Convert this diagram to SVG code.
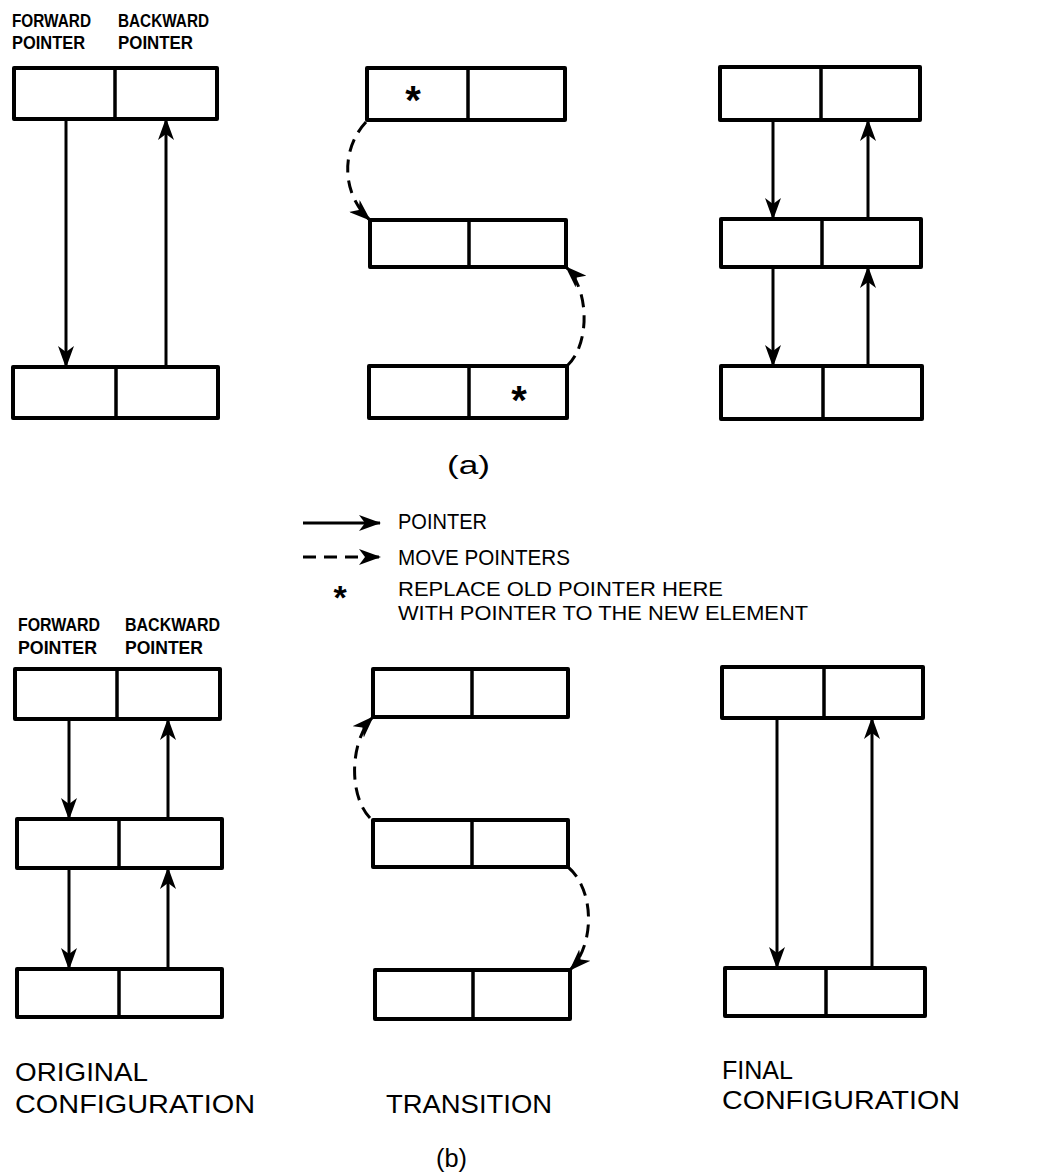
<svg xmlns="http://www.w3.org/2000/svg" width="1061" height="1173" viewBox="0 0 1061 1173">
<style>
.box{fill:none;stroke:#000;stroke-width:4;stroke-linejoin:round}
.div{stroke:#000;stroke-width:3.5}
.ptr{fill:none;stroke:#000;stroke-width:3}
.mv{fill:none;stroke:#000;stroke-width:3;stroke-dasharray:13 8}
.hdr{font-family:"Liberation Sans",Arial,sans-serif;font-weight:bold;font-size:19px;fill:#000}
.lbl{font-family:"Liberation Sans",Arial,sans-serif;font-size:26px;fill:#000}
.leg{font-family:"Liberation Sans",Arial,sans-serif;font-size:22px;fill:#000}
.leg2{font-family:"Liberation Sans",Arial,sans-serif;font-size:20px;fill:#000}
.star{font-family:"Liberation Sans",Arial,sans-serif;font-size:40px;font-weight:bold;fill:#000}
</style>
<defs>
<marker id="ah" viewBox="0 0 22 16" refX="21" refY="8" markerWidth="22" markerHeight="16" markerUnits="userSpaceOnUse" orient="auto">
<path d="M0,0 L22,8 L0,16 L6,8 Z" fill="#000"/>
</marker>
</defs>
<rect width="1061" height="1173" fill="#fff"/>

<!-- headers -->
<g id="hdr-a">
<text class="hdr" x="12" y="27" textLength="79" lengthAdjust="spacingAndGlyphs">FORWARD</text>
<text class="hdr" x="12" y="49" textLength="73" lengthAdjust="spacingAndGlyphs">POINTER</text>
<text class="hdr" x="118" y="27" textLength="91" lengthAdjust="spacingAndGlyphs">BACKWARD</text>
<text class="hdr" x="118" y="49" textLength="75" lengthAdjust="spacingAndGlyphs">POINTER</text>
</g>
<g id="hdr-b">
<text class="hdr" x="18" y="631" textLength="82" lengthAdjust="spacingAndGlyphs">FORWARD</text>
<text class="hdr" x="18" y="654" textLength="79" lengthAdjust="spacingAndGlyphs">POINTER</text>
<text class="hdr" x="125" y="631" textLength="95" lengthAdjust="spacingAndGlyphs">BACKWARD</text>
<text class="hdr" x="125" y="654" textLength="78" lengthAdjust="spacingAndGlyphs">POINTER</text>
</g>

<!-- (a) column 1 -->
<g id="a1-top"><rect class="box" x="14" y="68" width="203" height="51"/><line class="div" x1="115" y1="68" x2="115" y2="119"/></g>
<g id="a1-bot"><rect class="box" x="13" y="367" width="205" height="51"/><line class="div" x1="116" y1="367" x2="116" y2="418"/></g>
<!-- (a) column 2 -->
<g id="a2-top"><rect class="box" x="367" y="68" width="198" height="52"/><line class="div" x1="468" y1="68" x2="468" y2="120"/><text class="star" x="413" y="114" text-anchor="middle">*</text></g>
<g id="a2-mid"><rect class="box" x="370" y="220" width="196" height="47"/><line class="div" x1="469" y1="220" x2="469" y2="267"/></g>
<g id="a2-bot"><rect class="box" x="369" y="366" width="198" height="52"/><line class="div" x1="469" y1="366" x2="469" y2="418"/><text class="star" x="519" y="414" text-anchor="middle">*</text></g>
<!-- (a) column 3 -->
<g id="a3-top"><rect class="box" x="720" y="67" width="200" height="53"/><line class="div" x1="821" y1="67" x2="821" y2="120"/></g>
<g id="a3-mid"><rect class="box" x="721" y="219" width="200" height="48"/><line class="div" x1="822" y1="219" x2="822" y2="267"/></g>
<g id="a3-bot"><rect class="box" x="721" y="366" width="201" height="53"/><line class="div" x1="823" y1="366" x2="823" y2="419"/></g>

<!-- (b) column 1 -->
<g id="b1-top"><rect class="box" x="15" y="669" width="205" height="50"/><line class="div" x1="117" y1="669" x2="117" y2="719"/></g>
<g id="b1-mid"><rect class="box" x="17" y="819" width="205" height="49"/><line class="div" x1="119" y1="819" x2="119" y2="868"/></g>
<g id="b1-bot"><rect class="box" x="17" y="969" width="205" height="48"/><line class="div" x1="119" y1="969" x2="119" y2="1017"/></g>
<!-- (b) column 2 -->
<g id="b2-top"><rect class="box" x="373" y="669" width="195" height="48"/><line class="div" x1="472" y1="669" x2="472" y2="717"/></g>
<g id="b2-mid"><rect class="box" x="373" y="820" width="195" height="47"/><line class="div" x1="472" y1="820" x2="472" y2="867"/></g>
<g id="b2-bot"><rect class="box" x="375" y="970" width="195" height="49"/><line class="div" x1="473" y1="970" x2="473" y2="1019"/></g>
<!-- (b) column 3 -->
<g id="b3-top"><rect class="box" x="722" y="667" width="201" height="51"/><line class="div" x1="824" y1="667" x2="824" y2="718"/></g>
<g id="b3-bot"><rect class="box" x="725" y="968" width="200" height="48"/><line class="div" x1="826" y1="968" x2="826" y2="1016"/></g>

<!-- connectors -->
<g id="connectors">
<line class="ptr" x1="66" y1="119" x2="66" y2="367" marker-end="url(#ah)"/>
<line class="ptr" x1="166" y1="367" x2="166" y2="119" marker-end="url(#ah)"/>
<path class="mv" d="M366,122 C340,150 342,195 370,220" marker-end="url(#ah)"/>
<path class="mv" d="M567,366 C590,345 590,290 566,267" marker-end="url(#ah)"/>
<line class="ptr" x1="773" y1="120" x2="773" y2="219" marker-end="url(#ah)"/>
<line class="ptr" x1="773" y1="267" x2="773" y2="366" marker-end="url(#ah)"/>
<line class="ptr" x1="868" y1="219" x2="868" y2="120" marker-end="url(#ah)"/>
<line class="ptr" x1="868" y1="366" x2="868" y2="267" marker-end="url(#ah)"/>

<line class="ptr" x1="69" y1="719" x2="69" y2="819" marker-end="url(#ah)"/>
<line class="ptr" x1="69" y1="868" x2="69" y2="969" marker-end="url(#ah)"/>
<line class="ptr" x1="168" y1="819" x2="168" y2="719" marker-end="url(#ah)"/>
<line class="ptr" x1="168" y1="969" x2="168" y2="868" marker-end="url(#ah)"/>
<path class="mv" d="M370,818 C348,795 350,740 373,717" marker-end="url(#ah)"/>
<path class="mv" d="M568,867 C595,890 595,945 570,970" marker-end="url(#ah)"/>
<line class="ptr" x1="777" y1="718" x2="777" y2="968" marker-end="url(#ah)"/>
<line class="ptr" x1="872" y1="968" x2="872" y2="718" marker-end="url(#ah)"/>
</g>

<!-- legend -->
<g id="legend">
<line class="ptr" x1="303" y1="523" x2="380" y2="523" marker-end="url(#ah)"/>
<text class="leg" x="398" y="529" textLength="89" lengthAdjust="spacingAndGlyphs">POINTER</text>
<line class="mv" x1="303" y1="557" x2="380" y2="557" stroke-dasharray="11 7" marker-end="url(#ah)"/>
<text class="leg" x="398" y="565" textLength="172" lengthAdjust="spacingAndGlyphs">MOVE POINTERS</text>
<text class="star" x="340" y="609" text-anchor="middle" style="font-size:34px">*</text>
<text class="leg2" x="398" y="596" textLength="325" lengthAdjust="spacingAndGlyphs">REPLACE OLD POINTER  HERE</text>
<text class="leg2" x="398" y="620" textLength="410" lengthAdjust="spacingAndGlyphs">WITH POINTER TO THE NEW ELEMENT</text>
</g>

<!-- captions -->
<text class="lbl" x="447" y="474" textLength="43" lengthAdjust="spacingAndGlyphs">(a)</text>
<text class="lbl" x="15" y="1081" textLength="133" lengthAdjust="spacingAndGlyphs">ORIGINAL</text>
<text class="lbl" x="15" y="1113" textLength="240" lengthAdjust="spacingAndGlyphs">CONFIGURATION</text>
<text class="lbl" x="386" y="1113" textLength="166" lengthAdjust="spacingAndGlyphs">TRANSITION</text>
<text class="lbl" x="722" y="1079" textLength="71" lengthAdjust="spacingAndGlyphs">FINAL</text>
<text class="lbl" x="722" y="1109" textLength="238" lengthAdjust="spacingAndGlyphs">CONFIGURATION</text>
<text class="lbl" x="436" y="1167" textLength="31" lengthAdjust="spacingAndGlyphs">(b)</text>
</svg>
